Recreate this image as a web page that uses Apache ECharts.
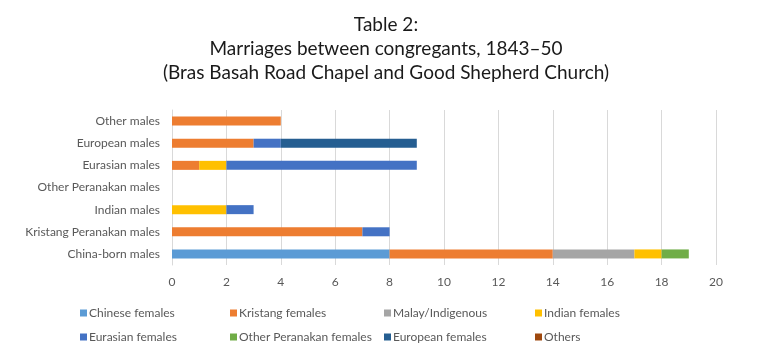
<!DOCTYPE html>
<html><head><meta charset="utf-8">
<script src="https://cdn.jsdelivr.net/npm/echarts@6/dist/echarts.min.js"></script>
<style>html,body{margin:0;padding:0;background:#fff}#c{width:772px;height:357px}</style>
</head><body><div id="c"></div>
<script>
const categories = ["China-born males","Kristang Peranakan males","Indian males","Other Peranakan males","Eurasian males","European males","Other males"];
const seriesNames = ["Chinese females","Kristang females","Malay/Indigenous","Indian females","Eurasian females","Other Peranakan females","European females","Others"];
const chineseF   = [8, 0, 0, 0, 0, 0, 0];
const kristangF  = [6, 7, 0, 0, 1, 3, 4];
const malayF     = [3, 0, 0, 0, 0, 0, 0];
const indianF    = [1, 0, 2, 0, 1, 0, 0];
const eurasianF  = [0, 1, 1, 0, 7, 1, 0];
const otherPerF  = [1, 0, 0, 0, 0, 0, 0];
const europeanF  = [0, 0, 0, 0, 0, 5, 0];
const othersF    = [0, 0, 0, 0, 0, 0, 0];
const xTicks = [0,2,4,6,8,10,12,14,16,18,20];
const colors = ["#5B9BD5","#ED7D31","#A5A5A5","#FFC000","#4472C4","#70AD47","#255E91","#9E480E"];
const values = [chineseF,kristangF,malayF,indianF,eurasianF,otherPerF,europeanF,othersF];

const chart = echarts.init(document.getElementById('c'));
const font = "Lato, 'Open Sans', sans-serif";
const legendX = [80,230,384,535];
const legends = seriesNames.map((n,i)=>({
  data:[n], left: legendX[i%4], top: i<4 ? 307 : 331,
  itemWidth:7, itemHeight:7, icon:'rect', itemGap:0, padding:0,
  textStyle:{color:'#595959', fontSize:12, fontFamily:font, padding:[0,0,0,-3]},
  selectedMode:false
}));
chart.setOption({
  animation:false,
  color: colors,
  title:{
    text:"Table 2:\nMarriages between congregants, 1843–50\n(Bras Basah Road Chapel and Good Shepherd Church)",
    left:'center', top:8,
    textStyle:{fontFamily:font, fontSize:19, fontWeight:'normal', color:'#1a1a1a', lineHeight:24}
  },
  legend: legends,
  grid:{left:172, right:56, top:110, bottom:92, containLabel:false},
  xAxis:{type:'value', min:0, max:20, interval:2,
    axisLine:{show:false}, axisTick:{show:false},
    axisLabel:{color:'#595959', fontSize:12, fontFamily:font, margin:11, formatter:v=>xTicks.includes(v)?String(v):''},
    splitLine:{lineStyle:{color:'#D9D9D9', width:1}}
  },
  yAxis:{type:'category', data:categories,
    axisLine:{show:true, lineStyle:{color:'#D9D9D9'}}, axisTick:{show:false},
    axisLabel:{color:'#595959', fontSize:12, fontFamily:font, margin:12}
  },
  series: seriesNames.map((n,i)=>({
    name:n, type:'bar', stack:'total', data:values[i], barWidth:9,
    itemStyle:{color:colors[i]}
  }))
});
</script></body></html>
